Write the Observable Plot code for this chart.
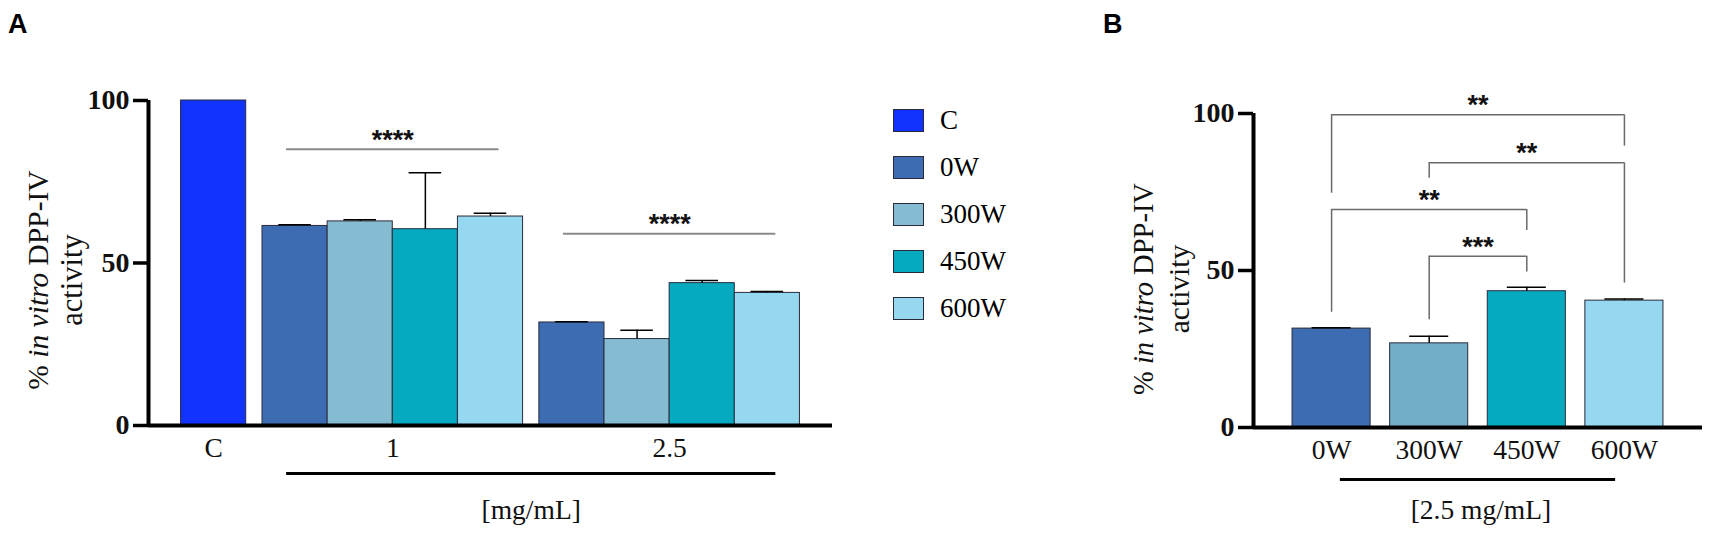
<!DOCTYPE html>
<html>
<head>
<meta charset="utf-8">
<script src="https://cdn.jsdelivr.net/npm/d3@7"></script>
<script src="https://cdn.jsdelivr.net/npm/@observablehq/plot@0.6"></script>
<style>
  body { margin: 0; background: #fff; }
  #wrap { position: relative; width: 1713px; height: 537px; overflow: hidden; background: #fff; }
  .panel { position: absolute; top: 0; z-index: 1; }
  .letter { position: absolute; z-index: 5; font-family: "Liberation Sans", Arial, sans-serif; font-weight: bold; font-size: 27px; line-height: 1; }
  #legend { position: absolute; z-index: 5; left: 893px; top: 97px; font-family: "Liberation Serif", "Times New Roman", serif; font-size: 27px; }
  #legend .row { display: flex; align-items: center; height: 47px; }
  #legend .sw { width: 29px; height: 21px; border: 1px solid #2a2a3a; margin-right: 16px; }
</style>
</head>
<body>
<div id="wrap">
  <div id="panelA" class="panel" style="left:0px;"></div>
  <div id="panelB" class="panel" style="left:1000px;"></div>
  <div id="legend"></div>
  <div class="letter" style="left:8px;top:11px;">A</div>
  <div class="letter" style="left:1103px;top:11px;">B</div>
</div>
<script>
// ---------- data ----------
const seriesA = ["C", "0W", "300W", "450W", "600W"];
const colorsA = ["#1232FF", "#3D6CB3", "#85BCD1", "#05AAC1", "#96D8F0"];
const powers = ["0W", "300W", "450W", "600W"];
const groupsA = ["C", "1", "2.5"];
const meanC = [100];
const mean1 = [61.4, 62.8, 60.4, 64.3];
const sd1 = [0.4, 0.5, 17.4, 1.0];
const mean25 = [31.7, 26.6, 43.8, 40.8];
const sd25 = [0.2, 2.7, 0.8, 0.4];
const sigA = [{group: "1", y: 85, label: "****"}, {group: "2.5", y: 59, label: "****"}];
const yTicks = [0, 50, 100];
const unitA = "[mg/mL]";

const colorsB = ["#3D6CB3", "#72AEC8", "#05AAC1", "#96D8F0"];
const meanB = [31.5, 26.8, 43.4, 40.4];
const sdB = [0.3, 2.3, 1.3, 0.5];
const bracketsB = [
  {from: "0W",   to: "600W", y: 99.6, yFrom: 74.6, yTo: 89.6, label: "**"},
  {from: "300W", to: "600W", y: 84.3, yFrom: 79.4, yTo: 46.0, label: "**"},
  {from: "0W",   to: "450W", y: 69.4, yFrom: 36.7, yTo: 62.7, label: "**"},
  {from: "300W", to: "450W", y: 54.5, yFrom: 34.3, yTo: 49.5, label: "***"}
];
const unitB = "[2.5 mg/mL]";
const yLabel1 = ["% ", "in vitro", " DPP-IV"];
const yLabel2 = "activity";

// ---------- panel A layout ----------
const groupDefs = [
  {g: groupsA[0], series: ["C"], mean: meanC, sd: [null]},
  {g: groupsA[1], series: powers, mean: mean1, sd: sd1},
  {g: groupsA[2], series: powers, mean: mean25, sd: sd25}
];
const rowsA = [];
let start = 0.5;
groupDefs.forEach(G => {
  G.series.forEach((s, i) => rowsA.push({group: G.g, series: s, x1: start + i, x2: start + i + 1, xc: start + i + 0.5, mean: G.mean[i], sd: G.sd[i]}));
  G.center = start + G.series.length / 2;
  start += G.series.length + 0.25;
});
const xEndA = start - 0.25 + 0.5;
const errA = rowsA.filter(d => d.sd != null);
const centerOf = g => groupDefs.find(G => G.g === g).center;
const half = 1.63;
const serif = "Liberation Serif, Times New Roman, serif";
const sans = "Liberation Sans, Arial, sans-serif";

const plotA = Plot.plot({
  width: 870, height: 537,
  marginLeft: 148, marginRight: 38, marginTop: 100, marginBottom: 112,
  x: {type: "linear", domain: [0, xEndA], axis: null},
  y: {type: "linear", domain: [0, 100], axis: null},
  color: {domain: seriesA, range: colorsA},
  style: {fontFamily: serif, background: "white", overflow: "visible"},
  marks: [
    Plot.rect(rowsA, {x1: "x1", x2: "x2", y1: () => 0, y2: "mean", fill: "series", stroke: "#2a2a3a", strokeWidth: 1}),
    Plot.ruleX(errA, {x: "xc", y1: "mean", y2: d => d.mean + d.sd, stroke: "#000", strokeWidth: 1.5}),
    Plot.ruleY(errA, {x1: d => d.xc - 0.25, x2: d => d.xc + 0.25, y: d => d.mean + d.sd, stroke: "#000", strokeWidth: 1.5}),
    Plot.axisY({ticks: yTicks, tickSize: 15, tickPadding: 4, fontSize: 28, fontWeight: "bold", strokeWidth: 3.5, label: null, fill: "#111"}),
    Plot.ruleX([0], {stroke: "#000", strokeWidth: 4}),
    Plot.ruleY([0], {stroke: "#000", strokeWidth: 4}),
    Plot.ruleY(sigA, {x1: d => centerOf(d.group) - half, x2: d => centerOf(d.group) + half, y: "y", stroke: "#8a8a8a", strokeWidth: 2}),
    Plot.text(sigA, {x: d => centerOf(d.group), y: "y", text: "label", dy: -9, fontSize: 27, fontWeight: "bold", fontFamily: sans, fill: "#111"}),
    Plot.text(groupDefs, {x: "center", y: () => 0, text: "g", dy: 23, fontSize: 27.5, fill: "#111"}),
    Plot.ruleY([0], {x1: centerOf("1") - half, x2: centerOf("2.5") + half, dy: 48, stroke: "#000", strokeWidth: 3}),
    Plot.text([unitA], {x: () => (centerOf("1") + centerOf("2.5")) / 2, y: () => 0, text: d => d, dy: 85, fontSize: 27.5, fill: "#111"})
  ]
});
document.getElementById("panelA").appendChild(plotA);

// ---------- panel B ----------
const idx = p => powers.indexOf(p);
const rowsB = powers.map((p, i) => ({p, i, mean: meanB[i], sd: sdB[i]}));
const legsB = bracketsB.flatMap(b => [{x: idx(b.from), y1: b.yFrom, y2: b.y}, {x: idx(b.to), y1: b.yTo, y2: b.y}]);
const halfB = 1.41;

const plotB = Plot.plot({
  width: 713, height: 537,
  marginLeft: 253, marginRight: 11, marginTop: 113, marginBottom: 110,
  x: {type: "linear", domain: [-0.8, powers.length - 0.2], axis: null},
  y: {type: "linear", domain: [0, 100], axis: null},
  color: {domain: powers, range: colorsB},
  style: {fontFamily: serif, background: "white", overflow: "visible"},
  marks: [
    Plot.rect(rowsB, {x1: d => d.i - 0.4, x2: d => d.i + 0.4, y1: () => 0, y2: "mean", fill: "p", stroke: "#2a2a3a", strokeWidth: 1}),
    Plot.ruleX(rowsB, {x: "i", y1: "mean", y2: d => d.mean + d.sd, stroke: "#000", strokeWidth: 1.5}),
    Plot.ruleY(rowsB, {x1: d => d.i - 0.2, x2: d => d.i + 0.2, y: d => d.mean + d.sd, stroke: "#000", strokeWidth: 1.5}),
    Plot.ruleY(bracketsB, {x1: d => idx(d.from), x2: d => idx(d.to), y: "y", stroke: "#6a6a6a", strokeWidth: 1.5}),
    Plot.ruleX(legsB, {x: "x", y1: "y1", y2: "y2", stroke: "#6a6a6a", strokeWidth: 1.5}),
    Plot.text(bracketsB, {x: d => (idx(d.from) + idx(d.to)) / 2, y: "y", text: "label", dy: -9, fontSize: 27, fontWeight: "bold", fontFamily: sans, fill: "#111"}),
    Plot.axisY({ticks: yTicks, tickSize: 15, tickPadding: 4, fontSize: 28, fontWeight: "bold", strokeWidth: 3.5, label: null, fill: "#111"}),
    Plot.ruleX([-0.8], {stroke: "#000", strokeWidth: 4}),
    Plot.ruleY([0], {stroke: "#000", strokeWidth: 4}),
    Plot.text(rowsB, {x: "i", y: () => 0, text: "p", dy: 23, fontSize: 27.5, fill: "#111"}),
    Plot.ruleY([0], {x1: 1.5 - halfB, x2: 1.5 + halfB, dy: 52, stroke: "#000", strokeWidth: 3}),
    Plot.text([unitB], {x: () => 1.53, y: () => 0, text: d => d, dy: 83, fontSize: 27.5, fill: "#111"})
  ]
});
document.getElementById("panelB").appendChild(plotB);

// ---------- y-axis titles (mixed italic) ----------
function addYLabel(svgEl, x1, x2, yc, fs1, fs2) {
  const svg = d3.select(svgEl);
  const t1 = svg.append("text")
    .attr("transform", `translate(${x1},${yc}) rotate(-90)`)
    .attr("text-anchor", "middle").attr("dominant-baseline", "central")
    .attr("font-family", serif).attr("font-size", fs1).attr("fill", "#111");
  yLabel1.forEach((s, i) => t1.append("tspan").attr("font-style", i === 1 ? "italic" : "normal").text(s));
  svg.append("text")
    .attr("transform", `translate(${x2},${yc}) rotate(-90)`)
    .attr("text-anchor", "middle").attr("dominant-baseline", "central")
    .attr("font-family", serif).attr("font-size", fs2).attr("fill", "#111")
    .text(yLabel2);
}
addYLabel(plotA, 38, 72, 280, 29.5, 30.5);
addYLabel(plotB, 143, 179, 289, 28.5, 29.5);

// ---------- legend ----------
const legend = d3.select("#legend");
seriesA.forEach((s, i) => {
  const row = legend.append("div").attr("class", "row");
  row.append("div").attr("class", "sw").style("background", colorsA[i]);
  row.append("span").text(s);
});
</script>
</body>
</html>
